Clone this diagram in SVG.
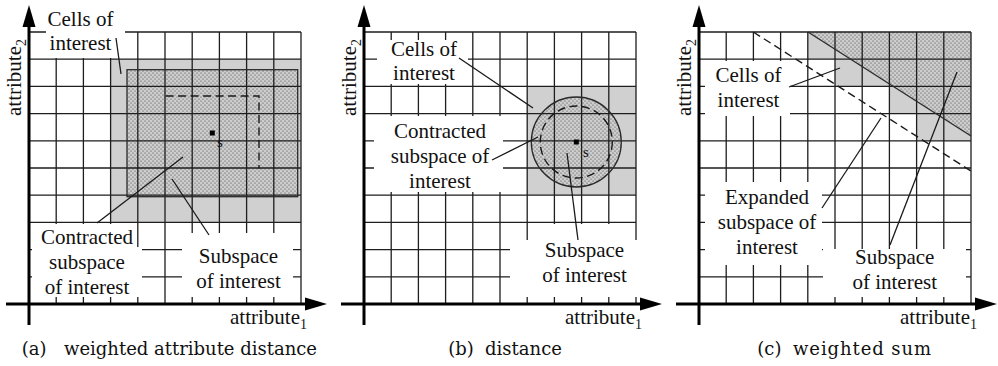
<svg xmlns="http://www.w3.org/2000/svg" xmlns:xlink="http://www.w3.org/1999/xlink" width="998" height="366" viewBox="0 0 998 366">
<style>
.grid{fill:none;stroke:#1e1e1e;stroke-width:1.3}
.axis{fill:none;stroke:#000;stroke-width:3}
.head{fill:#000}
.gray{fill:#d0d0d0}
.dot{fill:url(#dots)}
.edge{fill:none;stroke:#2a2a2a;stroke-width:1.3}
.dash{fill:none;stroke:#1a1a1a;stroke-width:1.4;stroke-dasharray:8 4.5}
.mask{fill:#fff}
.lead{fill:none;stroke:#1a1a1a;stroke-width:1.3}
.lbl{font-family:'Liberation Serif','Times New Roman',serif;font-size:21px;fill:#111;text-anchor:middle}
.ax{font-family:'Liberation Serif','Times New Roman',serif;font-size:21px;fill:#111}
.sub{font-size:14px}
.s{font-family:'Liberation Serif','Times New Roman',serif;font-size:15px;fill:#111}
.cap{font-family:'DejaVu Serif',serif;font-size:18px;fill:#111}
</style>
<defs>
<pattern id="dots" width="4" height="4" patternUnits="userSpaceOnUse">
<rect width="4" height="4" fill="#cdcdcd"/>
<circle cx="1" cy="1" r="0.6" fill="#3a3a3a"/>
<circle cx="3" cy="3" r="0.6" fill="#3a3a3a"/>
</pattern>
<path id="grid" class="grid" d="M27.2 -272V0M54.4 -272V0M81.6 -272V0M108.8 -272V0M136 -272V0M163.2 -272V0M190.4 -272V0M217.6 -272V0M244.8 -272V0M272 -272V0M0 -27.2H272M0 -54.4H272M0 -81.6H272M0 -108.8H272M0 -136H272M0 -163.2H272M0 -190.4H272M0 -217.6H272M0 -244.8H272M0 -272H272"/>
<g id="axes">
<path class="axis" d="M0 21V-277M-23 0H277"/>
<path class="head" d="M0 -299L-6.5 -277L6.5 -277Z"/>
<path class="head" d="M298 0L276 -6.5L276 6.5Z"/>
</g>
</defs>
<rect width="998" height="366" fill="#fff"/>

<!-- Panel (a) -->
<g id="panel-a">
<g id="a-cells-of-interest"><rect class="gray" x="110.6" y="59.2" width="190.4" height="163.2"/></g>
<g id="a-subspace"><rect class="dot" x="127" y="69.7" width="170.7" height="127"/></g>
<use xlink:href="#grid" href="#grid" transform="translate(29,304)"/>
<g id="a-masks">
<rect class="mask" x="46" y="6" width="79" height="52"/>
<rect class="mask" x="32" y="224" width="104" height="23"/>
<rect class="mask" x="32" y="247" width="110" height="50"/>
<rect class="mask" x="182" y="233" width="111" height="64"/>
</g>
<rect class="edge" x="127" y="69.7" width="170.7" height="127"/>
<g id="a-contracted"><path class="dash" d="M165.6 96H259V168.4"/></g>
<g id="a-point"><rect x="209.8" y="130.5" width="5" height="5" fill="#000"/><text class="s" x="217" y="147">s</text></g>
<use xlink:href="#axes" href="#axes" transform="translate(29,304)"/>
<g id="a-label-cells"><text class="lbl" x="80.5" y="26">Cells of</text><text class="lbl" x="80.5" y="50">interest</text></g>
<g id="a-label-contracted"><text class="lbl" x="87" y="244">Contracted</text><text class="lbl" x="87" y="269">subspace</text><text class="lbl" x="87" y="294">of interest</text></g>
<g id="a-label-subspace"><text class="lbl" x="238.5" y="263">Subspace</text><text class="lbl" x="238.5" y="288">of interest</text></g>
<g id="a-axis-labels"><text class="ax" x="230" y="324">attribute<tspan class="sub" dy="5">1</tspan></text>
<text class="ax" transform="translate(21,116) rotate(-90)">attribute<tspan class="sub" dy="5">2</tspan></text></g>
<text class="cap" x="21.7" y="355">(a)</text><text class="cap" x="64" y="355" textLength="253">weighted attribute distance</text>
</g>

<!-- Panel (b) -->
<g id="panel-b">
<g id="b-cells-of-interest"><rect class="gray" x="527.2" y="86.4" width="108.8" height="108.8"/></g>
<g id="b-subspace"><circle class="dot" cx="576.3" cy="142" r="45"/></g>
<use xlink:href="#grid" href="#grid" transform="translate(364,304)"/>
<g id="b-masks">
<rect class="mask" x="377" y="40" width="91" height="44"/>
<rect class="mask" x="374" y="116" width="129" height="76"/>
<rect class="mask" x="529" y="224" width="105" height="16"/>
<rect class="mask" x="510" y="240" width="130" height="57"/>
</g>
<circle class="edge" cx="576.3" cy="142" r="45"/>
<g id="b-contracted"><circle class="dash" cx="576.3" cy="142" r="36"/></g>
<g id="b-point"><rect x="573.8" y="139.5" width="5" height="5" fill="#000"/><text class="s" x="583" y="157">s</text></g>
<use xlink:href="#axes" href="#axes" transform="translate(364,304)"/>
<g id="b-label-cells"><text class="lbl" x="424" y="56">Cells of</text><text class="lbl" x="424" y="80">interest</text></g>
<g id="b-label-contracted"><text class="lbl" x="440" y="138">Contracted</text><text class="lbl" x="440" y="163">subspace of</text><text class="lbl" x="440" y="188">interest</text></g>
<g id="b-label-subspace"><text class="lbl" x="584.5" y="257">Subspace</text><text class="lbl" x="584.5" y="282">of interest</text></g>
<g id="b-axis-labels"><text class="ax" x="565" y="324">attribute<tspan class="sub" dy="5">1</tspan></text>
<text class="ax" transform="translate(356,116) rotate(-90)">attribute<tspan class="sub" dy="5">2</tspan></text></g>
<text class="cap" x="448.3" y="355">(b)</text><text class="cap" x="485" y="355" textLength="77">distance</text>
</g>

<!-- Panel (c) -->
<g id="panel-c">
<g id="c-cells-of-interest"><path class="gray" d="M807.8 32H971V140.8H916.6V113.6H889.4V86.4H835V59.2H807.8Z"/></g>
<g id="c-subspace"><path class="dot" d="M808 32H971V136Z"/></g>
<use xlink:href="#grid" href="#grid" transform="translate(699,304)"/>
<g id="c-masks">
<rect class="mask" x="705" y="61" width="85" height="55"/>
<rect class="mask" x="705" y="182" width="117" height="83"/>
<rect class="mask" x="823" y="249" width="143" height="48"/>
</g>
<path class="edge" d="M808 32L971 136"/>
<g id="c-expanded"><path class="dash" d="M753.3 32L971 171"/></g>
<use xlink:href="#axes" href="#axes" transform="translate(699,304)"/>
<g id="c-label-cells"><text class="lbl" x="748.5" y="82">Cells of</text><text class="lbl" x="748.5" y="107">interest</text></g>
<g id="c-label-expanded"><text class="lbl" x="767" y="204">Expanded</text><text class="lbl" x="767" y="229">subspace of</text><text class="lbl" x="767" y="253.5">interest</text></g>
<g id="c-label-subspace"><text class="lbl" x="894.7" y="264">Subspace</text><text class="lbl" x="894.7" y="288.5">of interest</text></g>
<g id="c-axis-labels"><text class="ax" x="900" y="324">attribute<tspan class="sub" dy="5">1</tspan></text>
<text class="ax" transform="translate(691,116) rotate(-90)">attribute<tspan class="sub" dy="5">2</tspan></text></g>
<text class="cap" x="757.3" y="355">(c)</text><text class="cap" x="793" y="355" textLength="138">weighted sum</text>
</g>

<g id="connectors">
<path class="lead" d="M116 38L121 74"/>
<path class="lead" d="M97 223L183 157"/>
<path class="lead" d="M172 179L209 235"/>
<path class="lead" d="M459 58L533 108"/>
<path class="lead" d="M492 160L538 137"/>
<path class="lead" d="M567 153L578 240"/>
<path class="lead" d="M789 87L840 68"/>
<path class="lead" d="M822 208L881 118"/>
<path class="lead" d="M957 72L890 245"/>
</g>
</svg>
